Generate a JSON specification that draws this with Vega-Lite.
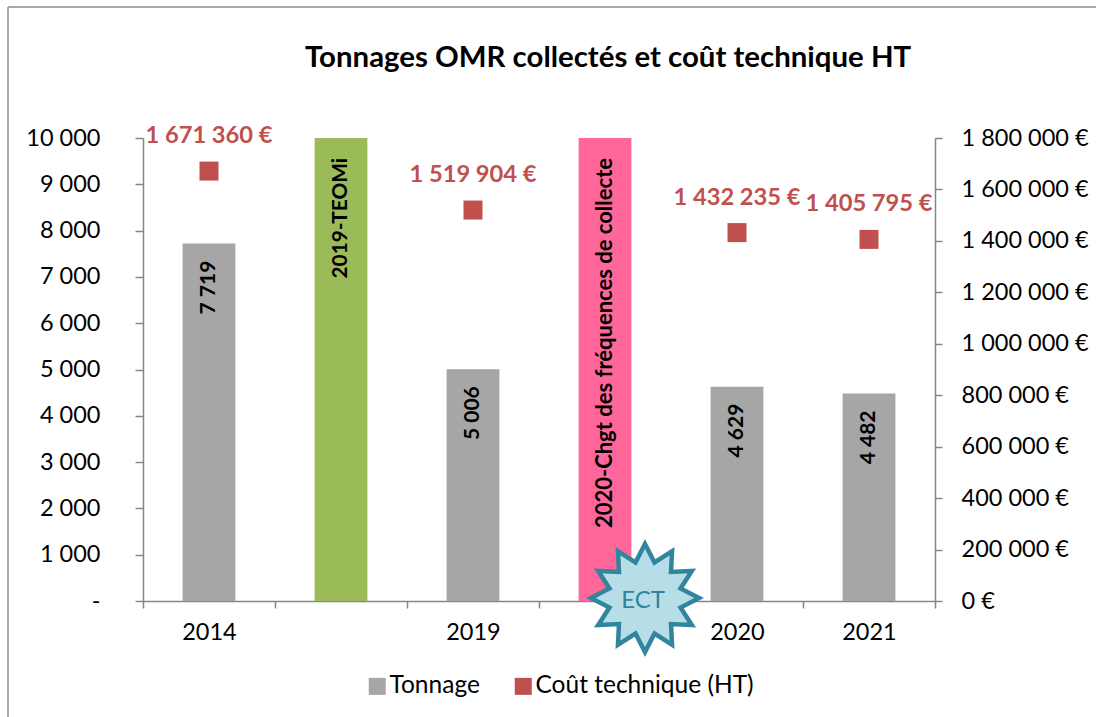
{
"$schema":"https://vega.github.io/schema/vega-lite/v6.json",
"width":792,"height":463,
"autosize":{"type":"none"},
"padding":{"left":143,"top":138,"right":161,"bottom":116},
"background":"white",
"title":{"text":"Tonnages OMR collectés et coût technique HT","font":"Lato","fontSize":29.4,"fontWeight":"bold","color":"#000000","anchor":"start","frame":"group","dx":162,"offset":-67},
"config":{"view":{"stroke":null},"font":"Lato"},
"data":{"values":[
{"categorie":"2014","serie":"Tonnage","tonnage":7719,"etiquette":"7 719","cout":1671360,"etiquette_cout":"1 671 360 €"},
{"categorie":"2019-TEOMi","serie":"TEOMi","tonnage":10000,"etiquette":"2019-TEOMi"},
{"categorie":"2019","serie":"Tonnage","tonnage":5006,"etiquette":"5 006","cout":1519904,"etiquette_cout":"1 519 904 €"},
{"categorie":"2020-Chgt","serie":"Chgt","tonnage":10000,"etiquette":"2020-Chgt des fréquences de collecte"},
{"categorie":"2020","serie":"Tonnage","tonnage":4629,"etiquette":"4 629","cout":1432235,"etiquette_cout":"1 432 235 €"},
{"categorie":"2021","serie":"Tonnage","tonnage":4482,"etiquette":"4 482","cout":1405795,"etiquette_cout":"1 405 795 €"}
]},
"layer":[
{"mark":{"type":"bar","width":{"band":0.4}},
 "encoding":{
  "x":{"field":"categorie","type":"nominal","sort":null,"title":null,
   "scale":{"domain":["2014","2019-TEOMi","2019","2020-Chgt","2020","2021"],"paddingInner":0,"paddingOuter":0},
   "axis":{"labelAngle":0,"labelExpr":"length(datum.label)>4 ? '' : datum.label","labelFont":"Lato","labelFontSize":23.5,"labelColor":"#000000","labelPadding":12,"tickBand":"extent","tickSize":7,"tickColor":"#868686","tickWidth":1.5,"domainColor":"#868686","domainWidth":1.5,"grid":false}},
  "y":{"field":"tonnage","type":"quantitative","title":null,
   "scale":{"domain":[0,10000],"nice":false},
   "axis":{"orient":"left","values":[0,1000,2000,3000,4000,5000,6000,7000,8000,9000,10000],"labelExpr":"datum.value===0 ? '-' : replace(format(datum.value,','),/,/g,' ')","labelFont":"Lato","labelFontSize":23.5,"labelColor":"#000000","labelPadding":35,"tickSize":8,"tickColor":"#868686","tickWidth":1.5,"domainColor":"#868686","domainWidth":1.5,"grid":false}},
  "color":{"field":"serie","type":"nominal","title":null,
   "scale":{"domain":["Tonnage","Coût technique (HT)","TEOMi","Chgt"],"range":["#A6A6A6","#C0504D","#9BBB59","#FF6699"]},
   "legend":{"values":["Tonnage","Coût technique (HT)"],"orient":"none","legendX":222,"legendY":536,"direction":"horizontal","symbolType":"square","symbolSize":289,"symbolStrokeWidth":0,"labelFont":"Lato","labelFontSize":24.5,"labelLimit":300,"labelColor":"#000000","columnPadding":31,"labelOffset":0,"title":null}}
 }},
{"transform":[{"filter":"datum.serie==='Tonnage'"}],
 "mark":{"type":"text","angle":-90,"align":"right","baseline":"middle","dx":-17,"font":"Lato","fontSize":21,"fontWeight":"bold","color":"#000000"},
 "encoding":{
  "x":{"field":"categorie","type":"nominal","sort":null},
  "y":{"field":"tonnage","type":"quantitative","scale":{"domain":[0,10000],"nice":false},"axis":null},
  "text":{"field":"etiquette"}
 }},
{"transform":[{"filter":"datum.serie==='TEOMi'"}],
 "mark":{"type":"text","angle":-90,"align":"right","baseline":"middle","dx":-20,"font":"Lato","fontSize":20.8,"fontWeight":"bold","color":"#000000"},
 "encoding":{
  "x":{"field":"categorie","type":"nominal","sort":null},
  "y":{"field":"tonnage","type":"quantitative","scale":{"domain":[0,10000],"nice":false},"axis":null},
  "text":{"field":"etiquette"}
 }},
{"transform":[{"filter":"datum.serie==='Chgt'"}],
 "mark":{"type":"text","angle":-90,"align":"right","baseline":"middle","dx":-20,"font":"Lato","fontSize":22,"fontWeight":"bold","color":"#000000"},
 "encoding":{
  "x":{"field":"categorie","type":"nominal","sort":null},
  "y":{"field":"tonnage","type":"quantitative","scale":{"domain":[0,10000],"nice":false},"axis":null},
  "text":{"field":"etiquette"}
 }},
{"mark":{"type":"point","shape":"square","filled":true,"size":361,"opacity":1},
 "encoding":{
  "x":{"field":"categorie","type":"nominal","sort":null},
  "y":{"field":"cout","type":"quantitative","title":null,
   "scale":{"domain":[0,1800000],"nice":false},
   "axis":{"orient":"right","values":[0,200000,400000,600000,800000,1000000,1200000,1400000,1600000,1800000],"labelExpr":"replace(format(datum.value,','),/,/g,' ')+' €'","labelFont":"Lato","labelFontSize":23.5,"labelColor":"#000000","labelPadding":19,"tickSize":7,"tickColor":"#868686","tickWidth":1.5,"domainColor":"#868686","domainWidth":1.5,"grid":false}},
  "color":{"datum":"Coût technique (HT)"}
 }},
{"mark":{"type":"text","align":"center","baseline":"middle","dy":-35,"font":"Lato","fontSize":23.7,"fontWeight":"bold","color":"#C0504D"},
 "encoding":{
  "x":{"field":"categorie","type":"nominal","sort":null},
  "y":{"field":"cout","type":"quantitative","scale":{"domain":[0,1800000],"nice":false},"axis":null},
  "text":{"field":"etiquette_cout"}
 }},
{"data":{"values":[{"categorie":"2020-Chgt","tonnage":0,"annotation":"ECT"}]},
 "mark":{"type":"point","filled":true,"fill":"#B7DEE8","stroke":"#31859C","strokeWidth":4.5,"opacity":1,"size":11700,"xOffset":40,"yOffset":-3,
  "shape":"M0,-1L0.176,-0.657L0.5,-0.866L0.481,-0.481L0.866,-0.5L0.657,-0.176L1,0L0.657,0.176L0.866,0.5L0.481,0.481L0.5,0.866L0.176,0.657L0,1L-0.176,0.657L-0.5,0.866L-0.481,0.481L-0.866,0.5L-0.657,0.176L-1,0L-0.657,-0.176L-0.866,-0.5L-0.481,-0.481L-0.5,-0.866L-0.176,-0.657Z"},
 "encoding":{
  "x":{"field":"categorie","type":"nominal","sort":null},
  "y":{"field":"tonnage","type":"quantitative","scale":{"domain":[0,10000],"nice":false},"axis":null}
 }},
{"data":{"values":[{"categorie":"2020-Chgt","tonnage":0,"annotation":"ECT"}]},
 "mark":{"type":"text","align":"center","baseline":"middle","xOffset":38,"yOffset":0,"font":"Lato","fontSize":24,"color":"#31849B"},
 "encoding":{
  "x":{"field":"categorie","type":"nominal","sort":null},
  "y":{"field":"tonnage","type":"quantitative","scale":{"domain":[0,10000],"nice":false},"axis":null},
  "text":{"field":"annotation"}
 }},
{"data":{"values":[{"cadre":"haut"}]},
 "mark":{"type":"rule","color":"#8C8C8C","strokeWidth":1.5,"clip":false},
 "encoding":{"x":{"value":-135},"x2":{"value":953},"y":{"value":-131}}},
{"data":{"values":[{"cadre":"gauche"}]},
 "mark":{"type":"rule","color":"#8C8C8C","strokeWidth":1.5,"clip":false},
 "encoding":{"x":{"value":-135},"y":{"value":-131},"y2":{"value":579}}}
],
"resolve":{"scale":{"y":"independent"}}
}
